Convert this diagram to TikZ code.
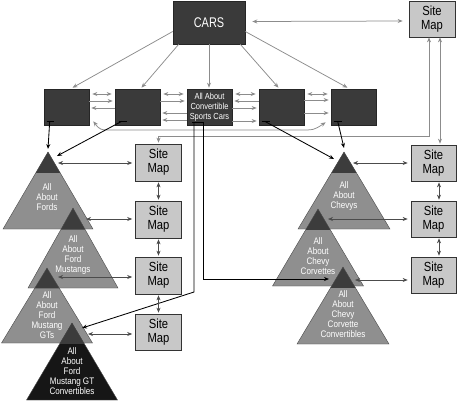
\documentclass[tikz,border=0pt]{standalone}
\usepackage{fontspec}
\setmainfont[FakeStretch=0.85]{Liberation Sans}
\newfontfamily\carsfont[FakeStretch=0.78]{Liberation Sans}
\usetikzlibrary{arrows.meta,calc}
\definecolor{boxdark}{HTML}{3A3A3A}
\definecolor{capdark}{HTML}{3C3C3C}
\definecolor{trigray}{HTML}{8F8F8F}
\definecolor{triblack}{HTML}{161616}
\definecolor{smfill}{HTML}{C8C8C8}
\definecolor{linegray}{HTML}{8C8C8C}
\definecolor{arrdark}{HTML}{4C4C4C}
\definecolor{trioutline}{HTML}{4A4A4A}
\newcommand{\mytri}[6]{%
  \fill[#6] (#2,#3) -- (#2-#5,#3+#4) -- (#2+#5,#3+#4) -- cycle;
  \fill[capdark] (#2,#3) -- (#2-0.27*#5,#3+0.27*#4) -- (#2+0.27*#5,#3+0.27*#4) -- cycle;
  \draw[trioutline, line width=0.4pt, line join=miter] (#2,#3) -- (#2-#5,#3+#4) -- (#2+#5,#3+#4) -- cycle;
  \coordinate (#1) at (#2,#3);
}
\begin{document}
\begin{tikzpicture}[x=1pt,y=-1pt,
  >={Stealth[length=5pt,width=4pt]},
  darkbox/.style={draw=black!85, line width=0.6pt, fill=boxdark, minimum width=45pt, minimum height=36pt, inner sep=0pt, text=white, align=center, font=\fontsize{8.8}{10}\selectfont},
  smbox/.style={draw=black!80, line width=0.7pt, fill=smfill, minimum width=46pt, minimum height=36pt, inner sep=0pt, align=center, font=\fontsize{13.2}{14}\selectfont},
  trilabel/.style={text=white, align=center, font=\fontsize{9.5}{10}\selectfont, inner sep=0pt},
  garr/.style={draw=linegray, line width=0.75pt},
  sarr/.style={draw=arrdark, line width=0.65pt},
  barr/.style={draw=black, line width=0.85pt},
  dashmark/.style={draw=black, line width=1.1pt},
]
\useasboundingbox (0,0) rectangle (457,400);
\fill[white] (0,0) rectangle (457,400);

% triangles (left)
\mytri{fords}{48}{152}{77}{45}{trigray}
\mytri{mustangs}{73}{208}{80}{45}{trigray}
\mytri{gts}{47}{268}{75}{45.5}{trigray}
\mytri{gtconv}{72}{323}{77}{45.5}{triblack}
% triangles (right)
\mytri{chevys}{344}{152}{77}{46}{trigray}
\mytri{corvettes}{318}{209}{77}{45.5}{trigray}
\mytri{corvconv}{343}{267}{77}{46}{trigray}

\node[trilabel] (tfords) at (47,197) {All\\About\\Fords};
\node[trilabel] (tmustangs) at (73,255) {All\\About\\Ford\\Mustangs};
\node[trilabel] (tgts) at (47,315.5) {All\\About\\Ford\\Mustang\\GTs};
\node[trilabel] (tgtconv) at (72,371.5) {All\\About\\Ford\\Mustang GT\\Convertibles};
\node[trilabel] (tchevys) at (344,196) {All\\About\\Chevys};
\node[trilabel] (tcorvettes) at (318,256.5) {All\\About\\Chevy\\Corvettes};
\node[trilabel] (tcorvconv) at (343,314) {All\\About\\Chevy\\Corvette\\Convertibles};

% boxes
\node[darkbox, minimum width=72pt, minimum height=43pt, font=\carsfont\fontsize{14}{14}\selectfont] (cars) at (209,22.5) {CARS};
\node[smbox] (smtop) at (432,19) {Site\\Map};
\node[darkbox] (b1) at (66.5,107) {};
\node[darkbox] (b2) at (137.5,107) {};
\node[darkbox] (b3) at (209.5,107) {All About\\Convertible\\Sports Cars};
\node[darkbox] (b4) at (281.5,107) {};
\node[darkbox] (b5) at (353.5,107) {};
\node[smbox, minimum height=37pt] (sml1) at (158.5,162.5) {Site\\Map};
\node[smbox, minimum height=37pt] (sml2) at (158.5,219.5) {Site\\Map};
\node[smbox, minimum height=37pt] (sml3) at (158.5,275.5) {Site\\Map};
\node[smbox] (sml4) at (158.5,332) {Site\\Map};
\node[smbox, minimum width=45pt] (smr1) at (433.5,163) {Site\\Map};
\node[smbox, minimum width=45pt] (smr2) at (433.5,219) {Site\\Map};
\node[smbox, minimum width=45pt] (smr3) at (433.5,275) {Site\\Map};

% CARS to row boxes
\draw[garr,->] ($(cars.west)+(0,9)$) -- ($(b1.north)+(6,-1)$);
\draw[garr,->] ($(cars.south west)+(6,0)$) -- ($(b2.north)+(4,-1)$);
\draw[garr,->] (cars.south) -- ($(b3.north)+(-0.5,-1)$);
\draw[garr,->] ($(cars.south east)+(-5,0)$) -- ($(b4.north)+(-3,-1)$);
\draw[garr,->] ($(cars.east)+(0,9)$) -- ($(b5.north)+(-6,-1)$);
\draw[garr,<->] ($(cars.east)+(7,-1)$) -- ($(smtop.west)+(-6,2)$);

% between boxes
\draw[garr,<->] ($(b1.east)+(3,-13)$) -- ($(b2.west)+(-3,-13)$);
\draw[garr,->] ($(b1.east)+(0,-6)$) -- ($(b2.west)+(-2,-6)$);
\draw[garr,<-] ($(b1.east)+(2,1)$) -- ($(b2.west)+(0,1)$);
\draw[garr,<->] ($(b2.east)+(3,-13)$) -- ($(b3.west)+(-3,-13)$);
\draw[garr,->] ($(b2.east)+(0,-6)$) -- ($(b3.west)+(-2,-6)$);
\draw[garr,<-] ($(b2.east)+(2,6)$) -- ($(b3.west)+(0,6)$);
\draw[garr,<-] ($(b2.east)+(2,13)$) -- ($(b3.west)+(0,13)$);
\draw[garr,<->] ($(b3.east)+(3,-13)$) -- ($(b4.west)+(-3,-13)$);
\draw[garr,<-] ($(b3.east)+(2,-6)$) -- ($(b4.west)+(0,-6)$);
\draw[garr,->] ($(b3.east)+(0,1)$) -- ($(b4.west)+(-2,1)$);
\draw[garr,->] ($(b3.east)+(0,14)$) -- ($(b4.west)+(-2,14)$);
\draw[garr,<->] ($(b4.east)+(3,-13)$) -- ($(b5.west)+(-3,-13)$);
\draw[garr,->] ($(b4.east)+(0,-7)$) -- ($(b5.west)+(-2,-7)$);
\draw[garr,->] ($(b4.east)+(0,6)$) -- ($(b5.west)+(-2,6)$);
% curved link box1 <-> box5
\draw[garr,<->] ($(b1.south east)+(4,-4)$) .. controls (100,130) .. (114,130) -- (300,130) .. controls (314,130) .. ($(b5.south west)+(-5,-3)$);

% site map frame links
\draw[garr,<->] ($(smtop.south)+(-3,0)$) -- ++(0,99) -| ($(sml1.north)+(0,-1)$);
\draw[garr,<->] ($(smtop.south)+(8,0)$) -- ($(smr1.north)+(6.5,-1)$);

% black marks and links
\draw[dashmark] ($(b1.south west)+(3,-4)$) -- ++(7,0);
\draw[dashmark] ($(b2.south west)+(4,-4)$) -- ++(8,0);
\draw[dashmark] ($(b3.south)+(-17.5,-3)$) -- ++(12,0);
\draw[dashmark] ($(b4.south west)+(3,-4)$) -- ++(8,0);
\draw[dashmark] ($(b5.south west)+(3,-4)$) -- ++(8,0);
\draw[barr,->] ($(b1.south west)+(6,-4)$) -- ($(fords)+(0,-3)$);
\draw[barr,->] ($(b2.south west)+(7,-4)$) -- ($(fords)+(9,4)$);
\draw[barr,->] ($(b4.south west)+(6,-4)$) -- ($(chevys)+(-10,7)$);
\draw[barr,->] ($(b5.south west)+(7,-4)$) -- ($(chevys)+(0,-4)$);
\draw[barr,->] ($(b3.south)+(-15.5,-3)$) -- (194,292) -- ($(gts)+(35,60)$);
\draw[barr,->] ($(b3.south)+(-6.5,-3)$) -- (203,279) -- ($(corvconv)+(-14,12)$);

% site map links (left)
\draw[sarr,<->] ($(fords)+(10,11)$) -- ($(sml1.west)+(-3,0.5)$);
\draw[sarr,<->] ($(sml1.south)+(0,1)$) -- ($(sml2.north)+(0,-1)$);
\draw[sarr,<->] ($(fords)+(38,67)$) -- ($(sml2.west)+(-3,-0.5)$);
\draw[sarr,<->] ($(sml2.south)+(0,1)$) -- ($(sml3.north)+(0,-1)$);
\draw[sarr,<->] ($(mustangs)+(-15,69)$) -- ($(sml3.west)+(-3,1.5)$);
\draw[sarr,<->] ($(sml3.south)+(0,1)$) -- ($(sml4.north)+(0,-1)$);
\draw[sarr,<->] ($(gts)+(41,66)$) -- ($(sml4.west)+(-3,2)$);
% site map links (right)
\draw[sarr,<->] ($(chevys)+(9,11)$) -- ($(smr1.west)+(-3,0)$);
\draw[sarr,<->] ($(smr1.south)+(5.5,1)$) -- ($(smr2.north)+(5.5,-1)$);
\draw[sarr,<->] ($(corvettes)+(10,10)$) -- ($(smr2.west)+(-3,0)$);
\draw[sarr,<->] ($(smr2.south)+(5.5,1)$) -- ($(smr3.north)+(5.5,-1)$);
\draw[sarr,<->] ($(corvconv)+(12,13)$) -- ($(smr3.west)+(-3,5)$);
\end{tikzpicture}
\end{document}
